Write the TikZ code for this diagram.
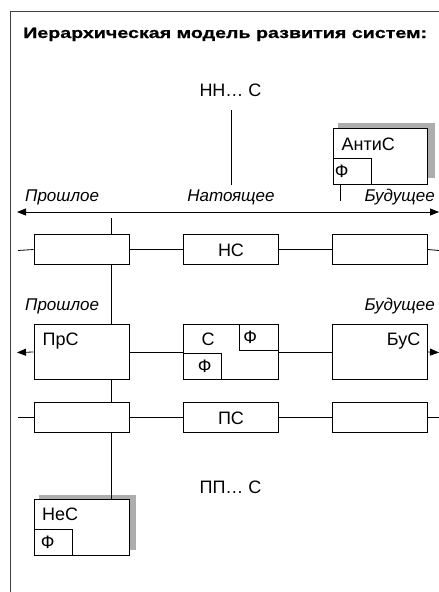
\documentclass[tikz,border=0pt]{standalone}
\usepackage{fontspec}
\setmainfont{Liberation Sans}
\newfontfamily\titlefont[FakeStretch=1.31,FakeBold=0.8]{Liberation Sans Bold}
\usetikzlibrary{arrows.meta}
\begin{document}
\begin{tikzpicture}[x=1pt,y=-1pt,
  ln/.style={line width=0.8pt},
  tip/.tip={Triangle[length=9pt,width=7pt]},
  box/.style={draw,ln,fill=white,inner sep=0pt},
  smallbox/.style={box,minimum width=95pt,minimum height=30pt},
  bigbox/.style={box,minimum width=95pt,minimum height=55pt},
  fbox/.style={box,minimum width=38.5pt,minimum height=26pt},
  shadowbox/.style={fill=black!32,draw=none,minimum width=97pt,minimum height=55pt,inner sep=0pt},
  lbl/.style={font=\fontsize{18}{18}\selectfont,inner sep=0pt},
  ital/.style={font=\fontsize{17}{17}\selectfont\itshape,inner sep=0pt},
  arr/.style={ln,-tip},
  frame/.style={line width=1pt,black!75}]
\useasboundingbox (0,0) rectangle (439,592);
% frame
\coordinate (ftr) at (439,11);
\coordinate (ftl) at (10,11);
\coordinate (fbl) at (10,592);
\draw[frame] (ftr) -- (ftl) -- (fbl);
\node[anchor=base west,inner sep=0pt,font=\fontsize{15}{15}\titlefont] (title) at (23,38) {Иерархическая модель развития систем:};
% top
\node[lbl,anchor=base] (nn) at (230.5,96) {НН… С};
\coordinate (nntop) at (231,110);
\coordinate (nnbot) at (231,185);
\draw[ln] (nntop) -- (nnbot);
\node[shadowbox] (antish) at (386,150.5) {};
\node[box,minimum width=94pt,minimum height=56pt] (anti) at (380,156) {};
\node[lbl,anchor=base west] (antit) at (341.5,150) {АнтиС};
\node[fbox,anchor=south west] (antif) at (anti.south west) {};
\node[lbl,anchor=west] (antift) at ([xshift=2pt]antif.west) {Ф};
\coordinate (antiend) at (340,201);
\draw[ln] (antif.south -| antiend) -- (antiend);
% time axis
\node[ital,anchor=base west] (past1) at (25,201) {Прошлое};
\node[ital,anchor=base] (pres1) at (231,201) {Натоящее};
\node[ital,anchor=base east] (fut1) at (435,201) {Будущее};
\coordinate (axl) at (17,212);
\coordinate (axr) at (439,212);
\draw[ln,tip-tip] (axl) -- (axr);
% row 1
\node[smallbox] (r1a) at (81.5,249.5) {};
\node[smallbox] (r1b) at (230.5,249.5) {};
\node[lbl,anchor=base] (r1bt) at (231,256) {НС};
\node[smallbox] (r1c) at (380,249.5) {};
\coordinate (r1l) at (18,250.5);
\coordinate (r1r) at (439,250.5);
\draw[ln] (r1l) -- (r1a.west);
\draw[ln] (r1a.east) -- (r1b.west);
\draw[ln] (r1b.east) -- (r1c.west);
\draw[ln] (r1c.east) -- (r1r);
% row 2
\node[ital,anchor=base west] (past2) at (25,310) {Прошлое};
\node[ital,anchor=base east] (fut2) at (435,310) {Будущее};
\node[bigbox] (prs) at (81.5,352) {};
\node[lbl,anchor=base west] (prst) at (42.5,345) {ПрС};
\node[bigbox] (s) at (230.5,352) {};
\node[lbl,anchor=base] (st) at (208,345) {С};
\node[fbox,anchor=north east] (sf1) at (s.north east) {};
\node[lbl,anchor=west] (sf1t) at ([xshift=4pt]sf1.west) {Ф};
\node[fbox,anchor=south west] (sf2) at (s.south west) {};
\node[lbl,anchor=west] (sf2t) at ([xshift=15pt]sf2.west) {Ф};
\node[bigbox] (bus) at (380,352) {};
\node[lbl,anchor=base east] (bust) at (420.5,345) {БуС};
\coordinate (r2l) at (17,352.5);
\coordinate (r2r) at (439,352.5);
\draw[arr] (prs.west) -- (r2l);
\draw[ln] (prs.east) -- (s.west);
\draw[ln] (s.east) -- (bus.west);
\draw[arr] (bus.east) -- (r2r);
% row 3
\node[smallbox] (r3a) at (81.5,417.5) {};
\node[smallbox] (r3b) at (230.5,417.5) {};
\node[lbl,anchor=base] (r3bt) at (231,424) {ПС};
\node[smallbox] (r3c) at (380,417.5) {};
\coordinate (r3l) at (18,417.5);
\coordinate (r3r) at (439,417.5);
\draw[ln] (r3l) -- (r3a.west);
\draw[ln] (r3a.east) -- (r3b.west);
\draw[ln] (r3b.east) -- (r3c.west);
\draw[ln] (r3c.east) -- (r3r);
\node[lbl,anchor=base] (pp) at (230.5,493) {ПП… С};
% bottom
\node[shadowbox] (nesh) at (87.5,522.5) {};
\node[box,minimum width=95pt,minimum height=56pt] (nes) at (81.5,527) {};
\node[lbl,anchor=base west] (nest) at (42,520) {НеС};
\node[fbox,anchor=south west] (nesf) at (nes.south west) {};
\node[lbl,anchor=west] (nesft) at ([xshift=7pt]nesf.west) {Ф};
% vertical spine
\coordinate (vtop) at (111,218);
\draw[ln] (vtop) -- (vtop |- r1a.north);
\draw[ln] (vtop |- r1a.south) -- (vtop |- prs.north);
\draw[ln] (vtop |- prs.south) -- (vtop |- r3a.north);
\draw[ln] (vtop |- r3a.south) -- (vtop |- nes.north);
\end{tikzpicture}
\end{document}
